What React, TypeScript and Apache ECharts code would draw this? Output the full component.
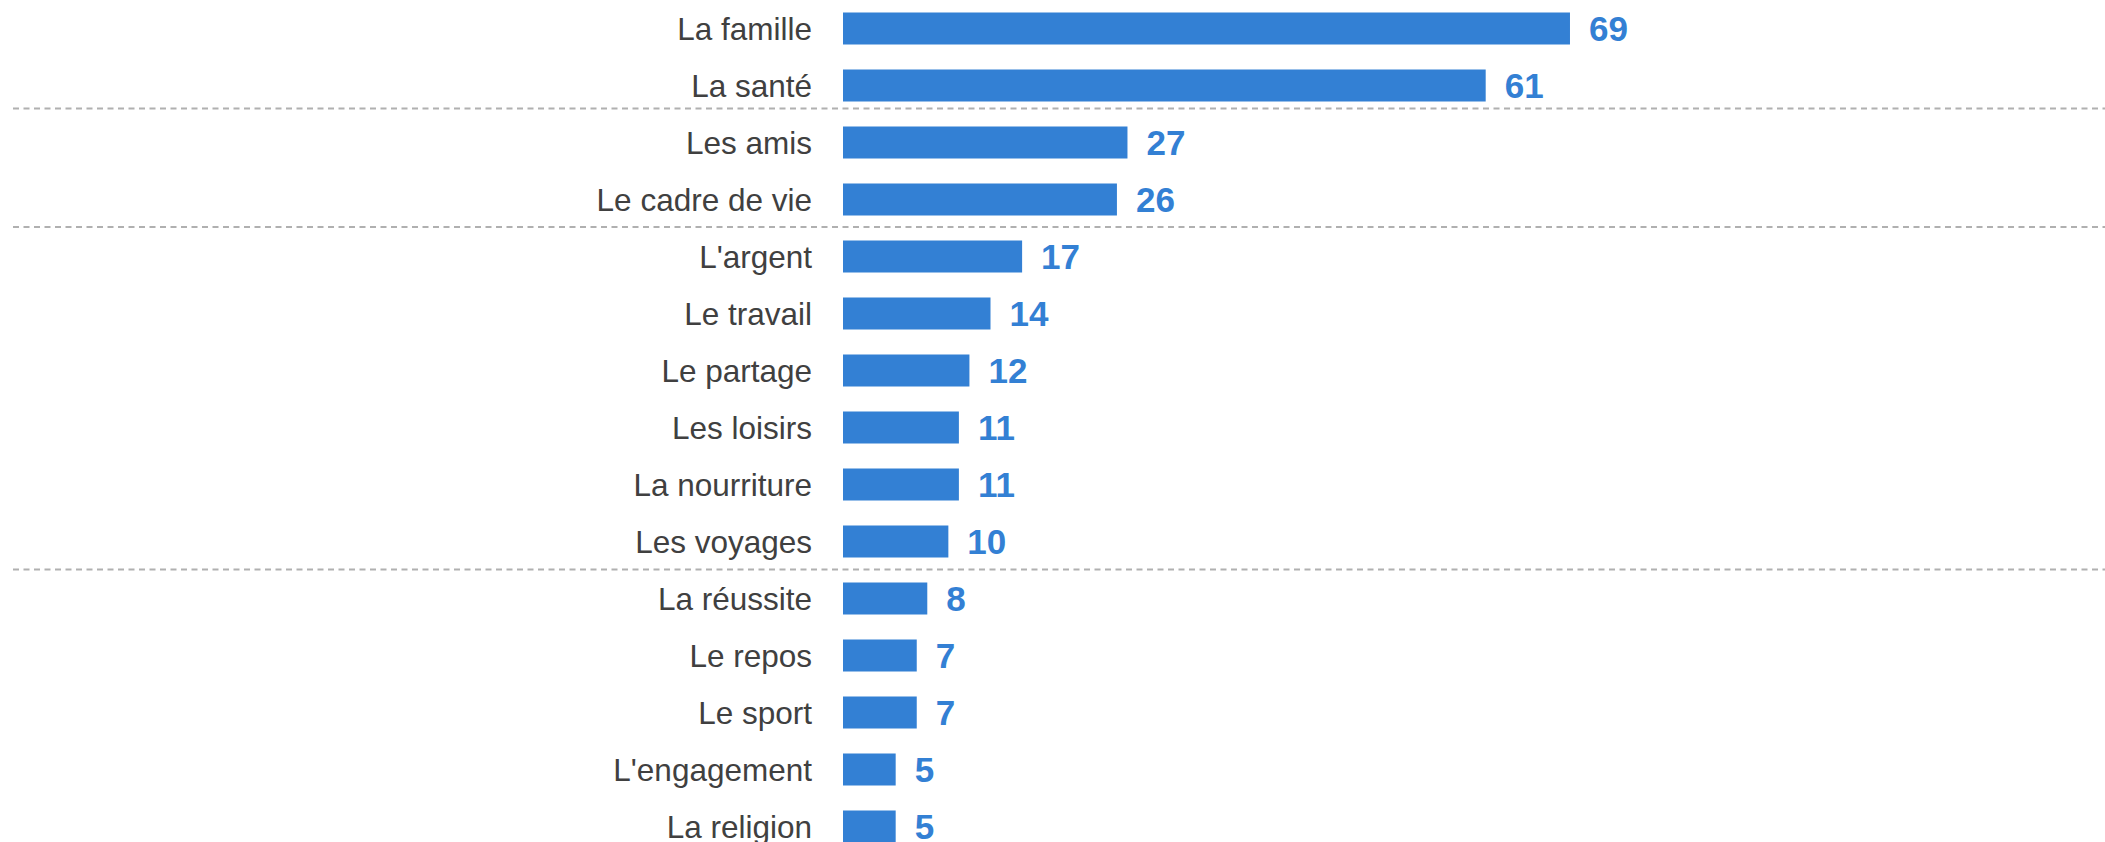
import React, { useEffect, useRef } from "react";
import * as echarts from "echarts";

const categories = [
  "La famille",
  "La santé",
  "Les amis",
  "Le cadre de vie",
  "L'argent",
  "Le travail",
  "Le partage",
  "Les loisirs",
  "La nourriture",
  "Les voyages",
  "La réussite",
  "Le repos",
  "Le sport",
  "L'engagement",
  "La religion",
];

const values = [69, 61, 27, 26, 17, 14, 12, 11, 11, 10, 8, 7, 7, 5, 5];

// y positions (px) of the dashed group separators
const separatorYs = [108.5, 227, 569.5];

const BAR_COLOR = "#3380D4";
const FONT = "'Liberation Sans', Arial, Helvetica, sans-serif";

export default function App() {
  const ref = useRef<HTMLDivElement | null>(null);

  useEffect(() => {
    if (!ref.current) return;
    const chart = echarts.init(ref.current, undefined, { renderer: "svg" });
    chart.setOption({
      animation: false,
      backgroundColor: "#ffffff",
      grid: {
        left: 843,
        top: 0,
        right: 208.4,
        bottom: 0,
        containLabel: false,
      },
      xAxis: {
        type: "value",
        min: 0,
        max: 100,
        show: false,
      },
      yAxis: {
        type: "category",
        data: categories,
        inverse: true,
        axisLine: { show: false },
        axisTick: { show: false },
        splitLine: { show: false },
        axisLabel: {
          margin: 31,
          fontSize: 31.5,
          color: "#404040",
          fontFamily: FONT,
        },
      },
      series: [
        {
          type: "bar",
          data: values,
          barWidth: 32,
          itemStyle: { color: BAR_COLOR },
          label: {
            show: true,
            position: "right",
            distance: 19,
            fontSize: 35,
            fontWeight: "bold",
            color: BAR_COLOR,
            fontFamily: FONT,
          },
        },
      ],
      graphic: separatorYs.map((y) => ({
        type: "line",
        shape: { x1: 13, y1: y, x2: 2105, y2: y },
        style: { stroke: "#b0b0b0", lineWidth: 2, lineDash: [6, 4.5] },
        z: 0,
      })),
    });
    return () => {
      chart.dispose();
    };
  }, []);

  return (
    <div
      style={{
        position: "absolute",
        left: 0,
        top: 0,
        width: 2105,
        height: 842,
        overflow: "hidden",
        background: "#ffffff",
      }}
    >
      <div ref={ref} style={{ width: 2105, height: 855 }} />
    </div>
  );
}
